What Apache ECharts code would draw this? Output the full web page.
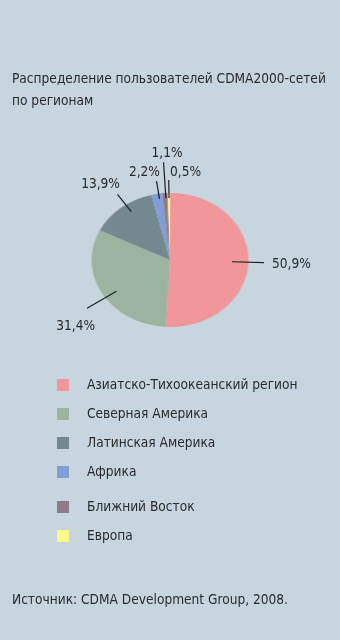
<!DOCTYPE html>
<html><head><meta charset="utf-8">
<script src="https://cdn.jsdelivr.net/npm/echarts@6/dist/echarts.min.js"></script>
<style>
html,body{margin:0;padding:0;background:#c6d5de;}
#wrap{position:relative;width:340px;height:640px;overflow:hidden;}
#pie{position:absolute;left:0;top:0;width:340px;height:640px;transform:scaleX(1.17);transform-origin:170px 260px;}
#c{position:absolute;left:0;top:0;width:340px;height:640px;}
</style>
</head><body><div id="wrap"><div id="pie"></div><div id="c"></div></div>
<script>
const title = 'Распределение пользователей CDMA2000-сетей\nпо регионам';
const source = 'Источник: CDMA Development Group, 2008.';
const regions = ['Азиатско-Тихоокеанский регион','Северная Америка','Латинская Америка','Африка','Ближний Восток','Европа'];
const shares = [50.9, 31.4, 13.9, 2.2, 1.1, 0.5];
const colors = ['#f1979b','#9bb4a0','#748890','#7f9ed6','#937a87','#fdf98c'];

// label styling (leader length, text offset from leader end, alignment)
const leaderLen = [32, 34, 22, 18, 36, 18];
const labelOffset = [[8,2,'left'],[8,18,'right'],[2.5,-9.5,'right'],[3.5,-9,'right'],[3.5,-9,'center'],[1.3,-8,'left']];

const FONT = '"Liberation Sans Narrow", "DejaVu Sans Condensed", sans-serif';
const TXT = '#2a2a2a';

// pie itself (stretched horizontally into an ellipse like the print original)
const pie = echarts.init(document.getElementById('pie'), null, {renderer:'canvas'});
pie.setOption({
  animation:false,
  series:[{type:'pie', center:[170,260], radius:[0,67], startAngle:90, clockwise:true, silent:true,
    label:{show:false}, labelLine:{show:false},
    data:regions.map((n,i)=>({name:n, value:shares[i], itemStyle:{color:colors[i]}}))}]
});

const chart = echarts.init(document.getElementById('c'), null, {renderer:'canvas'});
chart.setOption({
  backgroundColor:'transparent',
  animation:false,
  title:[
    {text:title, left:7, top:63, textStyle:{fontFamily:FONT, fontSize:13.6, fontWeight:'normal', color:TXT, lineHeight:22}},
    {text:source, left:7, top:587, textStyle:{fontFamily:FONT, fontSize:13.6, fontWeight:'normal', color:TXT, lineHeight:16}}
  ],
  legend:[
    {data:regions.slice(0,4), orient:'vertical', left:52, top:372, itemWidth:12, itemHeight:12, itemGap:13, icon:'rect',
     itemStyle:{opacity:1}, textStyle:{fontFamily:FONT, fontSize:13.6, lineHeight:16, color:TXT, padding:[0,0,0,13]}},
    {data:regions.slice(4), orient:'vertical', left:52, top:494, itemWidth:12, itemHeight:12, itemGap:13, icon:'rect',
     itemStyle:{opacity:1}, textStyle:{fontFamily:FONT, fontSize:13.6, lineHeight:16, color:TXT, padding:[0,0,0,13]}}
  ],
  series:[
    {type:'pie', center:[170,260], radius:[0,62], startAngle:90, clockwise:true, silent:true,
     avoidLabelOverlap:false,
     label:{show:true, position:'outside', opacity:1, formatter:p=>String(p.value).replace('.',',')+'%',
       fontFamily:FONT, fontSize:13.6, color:TXT},
     labelLine:{show:true, length:30, length2:0, minTurnAngle:0, lineStyle:{color:'#1e1e1e', width:1.2, opacity:1}},
     labelLayout:p=>{
       const pts = p.labelLinePoints; const e = pts[pts.length-1];
       const o = labelOffset[p.dataIndex];
       return {x:e[0]+o[0], y:e[1]+o[1], align:o[2], verticalAlign:'middle', labelLinePoints:pts};
     },
     data:regions.map((n,i)=>({name:n, value:shares[i],
       itemStyle:{color:colors[i], opacity:0},
       label:{opacity:1},
       labelLine:{length:leaderLen[i], length2:0}}))}
  ]
});
</script></body></html>
